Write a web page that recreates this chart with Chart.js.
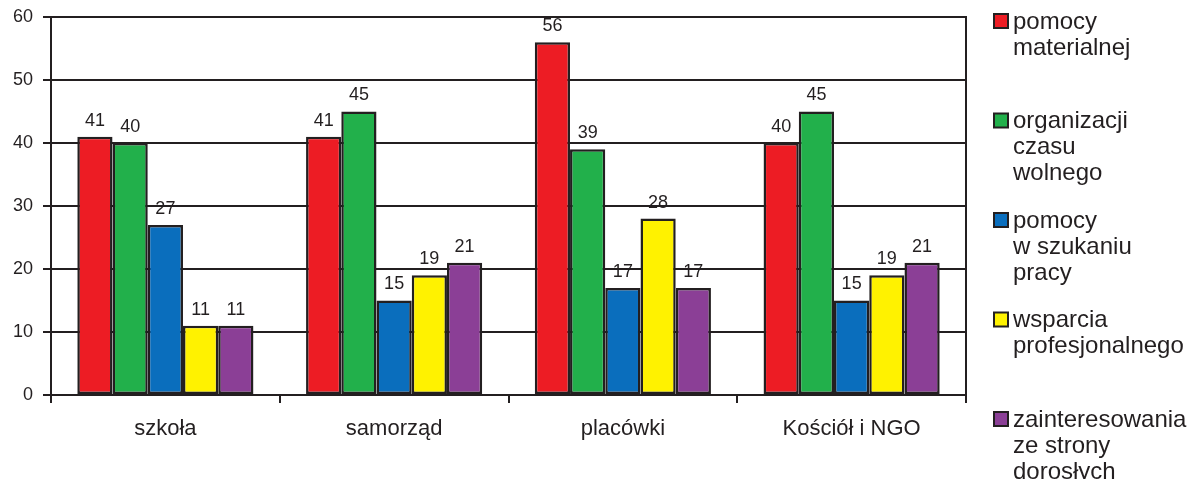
<!DOCTYPE html>
<html>
<head>
<meta charset="utf-8">
<script src="https://cdn.jsdelivr.net/npm/chart.js@4/dist/chart.umd.min.js"></script>
<style>
  html, body { margin: 0; padding: 0; background: #fff; }
  #wrap { width: 1188px; height: 479px; }
</style>
</head>
<body>
<div id="wrap"><canvas id="wykres"></canvas></div>
<script>
const kategorie = ['szkoła', 'samorząd', 'placówki', 'Kościół i NGO'];
const nazwySerii = [
    'pomocy\nmaterialnej',
    'organizacji\nczasu\nwolnego',
    'pomocy\nw szukaniu\npracy',
    'wsparcia\nprofesjonalnego',
    'zainteresowania\nze strony\ndorosłych'
];
const pomocyMaterialnej = [41, 41, 56, 40];
const organizacjiCzasu = [40, 45, 39, 45];
const pomocyWSzukaniu = [27, 15, 17, 15];
const wsparciaProf = [11, 19, 28, 19];
const zainteresowania = [11, 21, 17, 21];
const podzialkaY = [0, 10, 20, 30, 40, 50, 60];

const kolory = ['#ED1C24', '#22B04B', '#0A6EBD', '#FFF200', '#8B3F96'];
const ciemny = '#231F20';
const czcionka = 'Liberation Sans, Arial, sans-serif';

const serie = [pomocyMaterialnej, organizacjiCzasu, pomocyWSzukaniu, wsparciaProf, zainteresowania];

// wartości nad słupkami, legenda z prawej i prawa krawędź ramki
const dodatki = {
    id: 'dodatki',
    afterDatasetsDraw(chart) {
        const ctx = chart.ctx;
        const obszar = chart.chartArea;
        ctx.save();
        ctx.strokeStyle = ciemny;
        ctx.lineWidth = 2;
        ctx.beginPath();
        ctx.moveTo(obszar.right, obszar.top - 1);
        ctx.lineTo(obszar.right, obszar.bottom);
        ctx.stroke();

        ctx.fillStyle = ciemny;
        ctx.font = '18px ' + czcionka;
        ctx.textAlign = 'center';
        ctx.textBaseline = 'bottom';
        chart.data.datasets.forEach((ds, i) => {
            chart.getDatasetMeta(i).data.forEach((bar, j) => {
                ctx.fillText(ds.data[j], bar.x, bar.y - 7);
            });
        });

        const x0 = obszar.right + 28;
        chart.data.datasets.forEach((ds, i) => {
            const y0 = 14 + i * 99.5;
            ctx.fillStyle = ds.backgroundColor;
            ctx.fillRect(x0, y0, 14, 14);
            ctx.strokeStyle = ciemny;
            ctx.lineWidth = 2;
            ctx.strokeRect(x0, y0, 14, 14);
            ctx.fillStyle = ciemny;
            ctx.font = '24px ' + czcionka;
            ctx.textAlign = 'left';
            ctx.textBaseline = 'middle';
            ds.label.split('\n').forEach((linia, k) => {
                ctx.fillText(linia, x0 + 19, y0 + 8 + k * 26);
            });
        });
        ctx.restore();
    }
};

new Chart(document.getElementById('wykres'), {
    type: 'bar',
    data: {
        labels: kategorie,
        datasets: serie.map((dane, i) => ({
            label: nazwySerii[i],
            data: dane,
            backgroundColor: kolory[i],
            borderColor: ciemny,
            borderWidth: 2.5,
            borderSkipped: false,
            categoryPercentage: 0.77,
            barPercentage: 1.0
        }))
    },
    options: {
        responsive: true,
        maintainAspectRatio: false,
        animation: false,
        layout: { padding: { top: 17, right: 222, left: 0, bottom: 0 } },
        plugins: {
            legend: { display: false },
            tooltip: { enabled: false }
        },
        scales: {
            x: {
                grid: { offset: true, drawOnChartArea: false, color: ciemny, lineWidth: 2, tickLength: 8 },
                border: { color: ciemny, width: 2 },
                ticks: { color: ciemny, font: { size: 22, family: czcionka }, padding: 13 },
                afterFit(skala) { skala.height = 84; skala.paddingLeft = 0; skala.paddingRight = 0; }
            },
            y: {
                min: 0,
                max: 60,
                afterBuildTicks(skala) { skala.ticks = podzialkaY.map(v => ({ value: v })); },
                grid: { color: ciemny, lineWidth: 2, tickLength: 8 },
                border: { color: ciemny, width: 2 },
                ticks: { color: ciemny, font: { size: 18, family: czcionka }, padding: 10 },
                afterFit(skala) { skala.width = 51; skala.paddingTop = 0; skala.paddingBottom = 0; }
            }
        }
    },
    plugins: [dodatki]
});
</script>
</body>
</html>
